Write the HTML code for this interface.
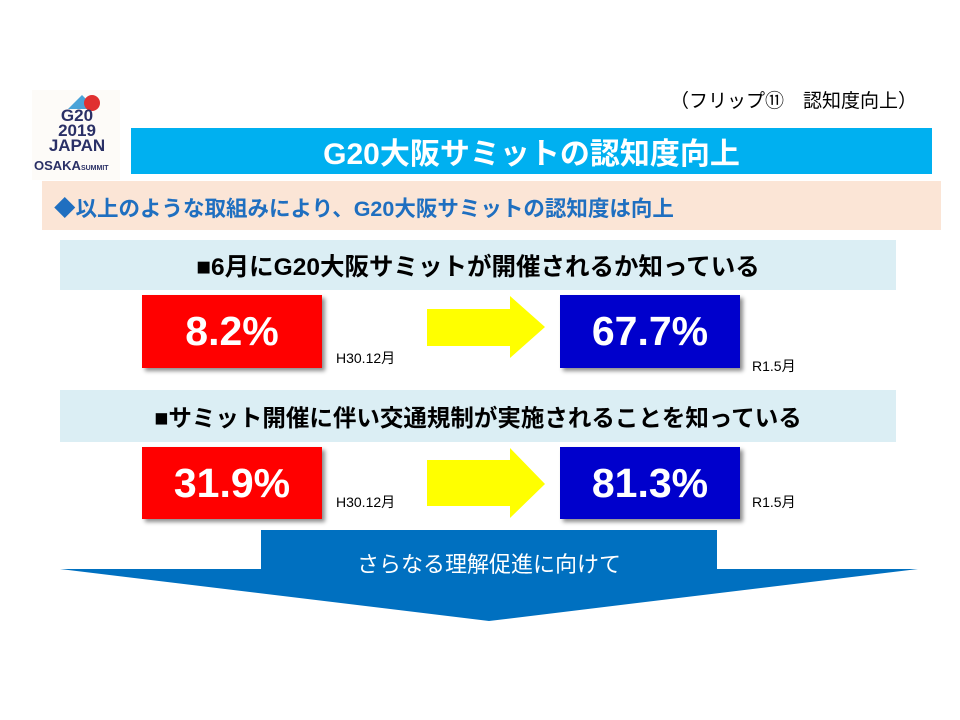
<!DOCTYPE html>
<html><head><meta charset="utf-8"><style>
body{margin:0;width:960px;height:720px;background:#fff;position:relative;overflow:hidden;font-family:"Liberation Sans","Noto Sans CJK JP",sans-serif;}
.a{position:absolute;}
.c{display:flex;align-items:center;justify-content:center;}
.box{font-weight:bold;color:#fff;font-size:41px;box-shadow:3px 3px 4px rgba(0,0,0,.45);}
</style></head><body>
<div class="a" style="left:670px;top:86px;font-size:19px;">（フリップ⑪　認知度向上）</div>
<div class="a" style="left:32px;top:90px;width:88px;height:90px;background:#fdfbf8;"></div>
<div class="a" style="left:68px;top:95px;width:0;height:0;border-left:14px solid transparent;border-right:14px solid transparent;border-bottom:14px solid #4aa3d8;"></div>
<div class="a" style="left:84px;top:95px;width:16px;height:16px;border-radius:50%;background:#e03030;"></div>
<div class="a" style="left:34px;top:108px;width:86px;font-weight:bold;color:#2a3066;font-size:17px;line-height:15px;text-align:center;">G20<br>2019<br>JAPAN</div>
<div class="a" style="left:34px;top:158px;font-weight:bold;color:#2a3066;font-size:13px;">OSAKA<span style="font-size:7px">SUMMIT</span></div>
<div class="a c" style="left:131px;top:128px;width:801px;height:46px;background:#00b0f0;color:#fff;font-weight:bold;font-size:30px;">G20大阪サミットの認知度向上</div>
<div class="a" style="left:42px;top:181px;width:899px;height:49px;background:#fbe5d6;"></div>
<div class="a" style="left:54px;top:192px;color:#1f6fc0;font-weight:bold;font-size:21.5px;">◆以上のような取組みにより、G20大阪サミットの認知度は向上</div>
<div class="a c" style="left:60px;top:240px;width:836px;height:50px;background:#dbeef4;font-weight:bold;font-size:24.5px;">■6月にG20大阪サミットが開催されるか知っている</div>
<div class="a c" style="left:60px;top:390px;width:836px;height:52px;background:#dbeef4;font-weight:bold;font-size:23.5px;">■サミット開催に伴い交通規制が実施されることを知っている</div>
<div class="a c box" style="left:142px;top:295px;width:180px;height:73px;background:#ff0000;">8.2%</div>
<div class="a c box" style="left:560px;top:295px;width:180px;height:73px;background:#0000cc;">67.7%</div>
<div class="a c box" style="left:142px;top:447px;width:180px;height:72px;background:#ff0000;">31.9%</div>
<div class="a c box" style="left:560px;top:447px;width:180px;height:72px;background:#0000cc;">81.3%</div>
<div class="a" style="left:336px;top:348px;font-size:14px;">H30.12月</div>
<div class="a" style="left:752px;top:356px;font-size:14px;">R1.5月</div>
<div class="a" style="left:336px;top:492px;font-size:14px;">H30.12月</div>
<div class="a" style="left:752px;top:492px;font-size:14px;">R1.5月</div>
<svg class="a" style="left:0;top:0" width="960" height="720">
<polygon points="427,309 510,309 510,296 545,327 510,358 510,346 427,346" fill="#ffff00"/>
<polygon points="427,460 510,460 510,448 545,484 510,518 510,506 427,506" fill="#ffff00"/>
<polygon points="261,530 717,530 717,569 918,569 489,621 60,569 261,569" fill="#0070c0"/>
</svg>
<div class="a" style="left:261px;top:547px;width:456px;text-align:center;color:#fff;font-size:22px;">さらなる理解促進に向けて</div>
</body></html>
